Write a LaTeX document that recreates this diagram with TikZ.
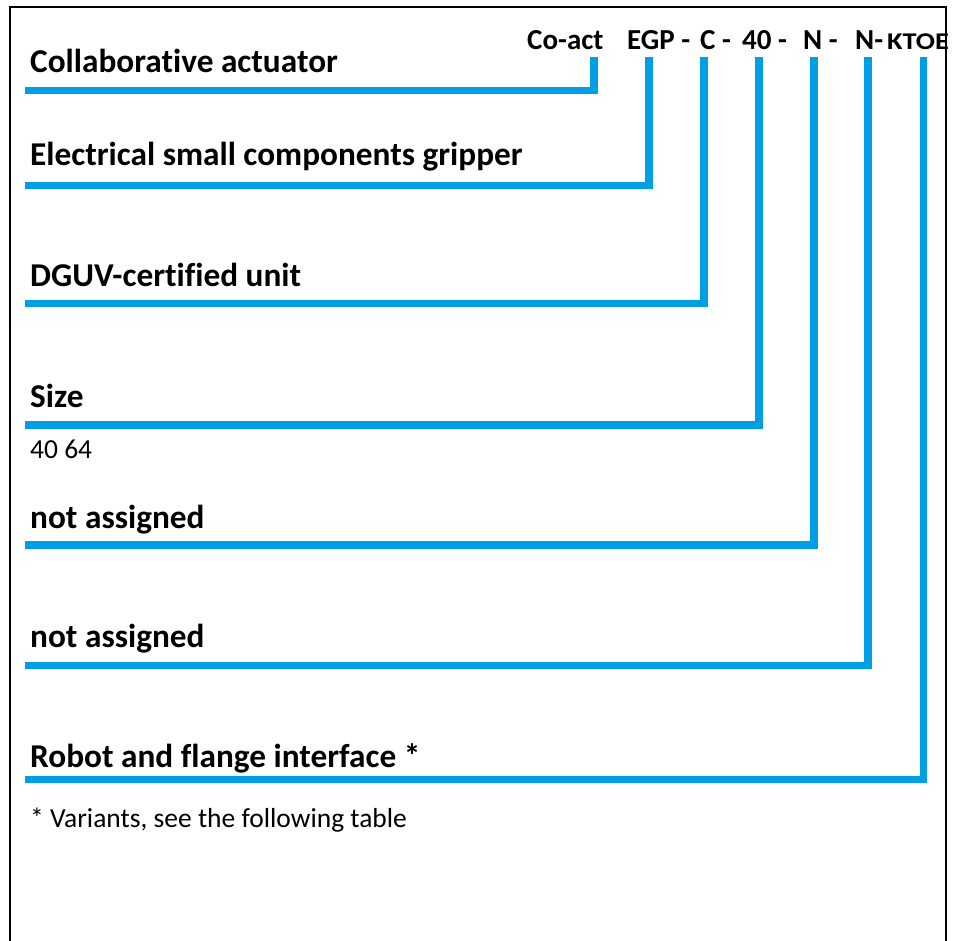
\documentclass[tikz,border=0pt]{standalone}
\usepackage{fontspec}
\setmainfont{Carlito}[RawFeature=-liga]
\usepackage{xcolor}
\usepackage{graphicx}
\usetikzlibrary{positioning,calc}
\definecolor{codeblue}{RGB}{0,159,227}

\begin{document}
\begin{tikzpicture}[x=1pt,y=-1pt,
		bluelink/.style={line width=7.5pt, codeblue, line join=miter},
		lbl/.style={anchor=base west, inner sep=0pt, font=\fontsize{33.3}{38}\selectfont\bfseries},
		note/.style={anchor=base west, inner sep=0pt, font=\fontsize{27.5}{32}\selectfont},
		code/.style={anchor=base west, inner sep=0pt, font=\fontsize{29}{33}\selectfont\bfseries}]
				\useasboundingbox (0,0) rectangle (956,941);
				\draw [line width=1.5pt] (10,941) -- (10,7) -- (946,7) -- (946,941);
				
				% order code on top
				\node [code] (coact) at (527,50) {Co-act};
				\node [code] (egp) at (627,50) {EGP -};
				\node [code] (cert) at (700,50) {C -};
				\node [code] (size) at (742,50) {40 -};
				\node [code] (na1) at (803,50) {N -};
				\node [code] (na2) at (855,50) {N-};
				\node [code, font=\fontsize{24}{28}\selectfont\bfseries] (ktoe) at (887,50) {\scalebox{1.18}[1]{KTOE}};
				
				% % % % % % % % % % % % % % % % % % % % % % % % % %
				
				\node [lbl] (l1) at (30,73) {Collaborative actuator};
				\node [lbl] (l2) at (30,166) {Electrical small components gripper};
				\node [lbl] (l3) at (30,287) {DGUV-certified unit};
				\node [lbl] (l4) at (30,407) {Size};
				\node [note] (sizes) at (30,458) {40 64};
				\node [lbl] (l5) at (30,528) {not assigned};
				\node [lbl] (l6) at (30,647) {not assigned};
				\node [lbl] (l7) at (30,767) {Robot and flange interface *};
				\node [note] (foot) at (30,827) {* Variants, see the following table};
				
				% % % % % % % % % % % % % % % % % % % % % % % % % %
				
				\coordinate (t1) at (594,57);
				\coordinate (t2) at (649,57);
				\coordinate (t3) at (704,57);
				\coordinate (t4) at (759,57);
				\coordinate (t5) at (814,57);
				\coordinate (t6) at (868,57);
				\coordinate (t7) at (923.5,57);
				
				\coordinate (s1) at (25,90.5);
				\coordinate (s2) at (25,185.5);
				\coordinate (s3) at (25,303.5);
				\coordinate (s4) at (25,425);
				\coordinate (s5) at (25,545);
				\coordinate (s6) at (25,665.5);
				\coordinate (s7) at (25,779.5);
				
				\draw [bluelink] (s1) -| (t1);
				\draw [bluelink] (s2) -| (t2);
				\draw [bluelink] (s3) -| (t3);
				\draw [bluelink] (s4) -| (t4);
				\draw [bluelink] (s5) -| (t5);
				\draw [bluelink] (s6) -| (t6);
				\draw [bluelink] (s7) -| (t7);
\end{tikzpicture}
\end{document}
